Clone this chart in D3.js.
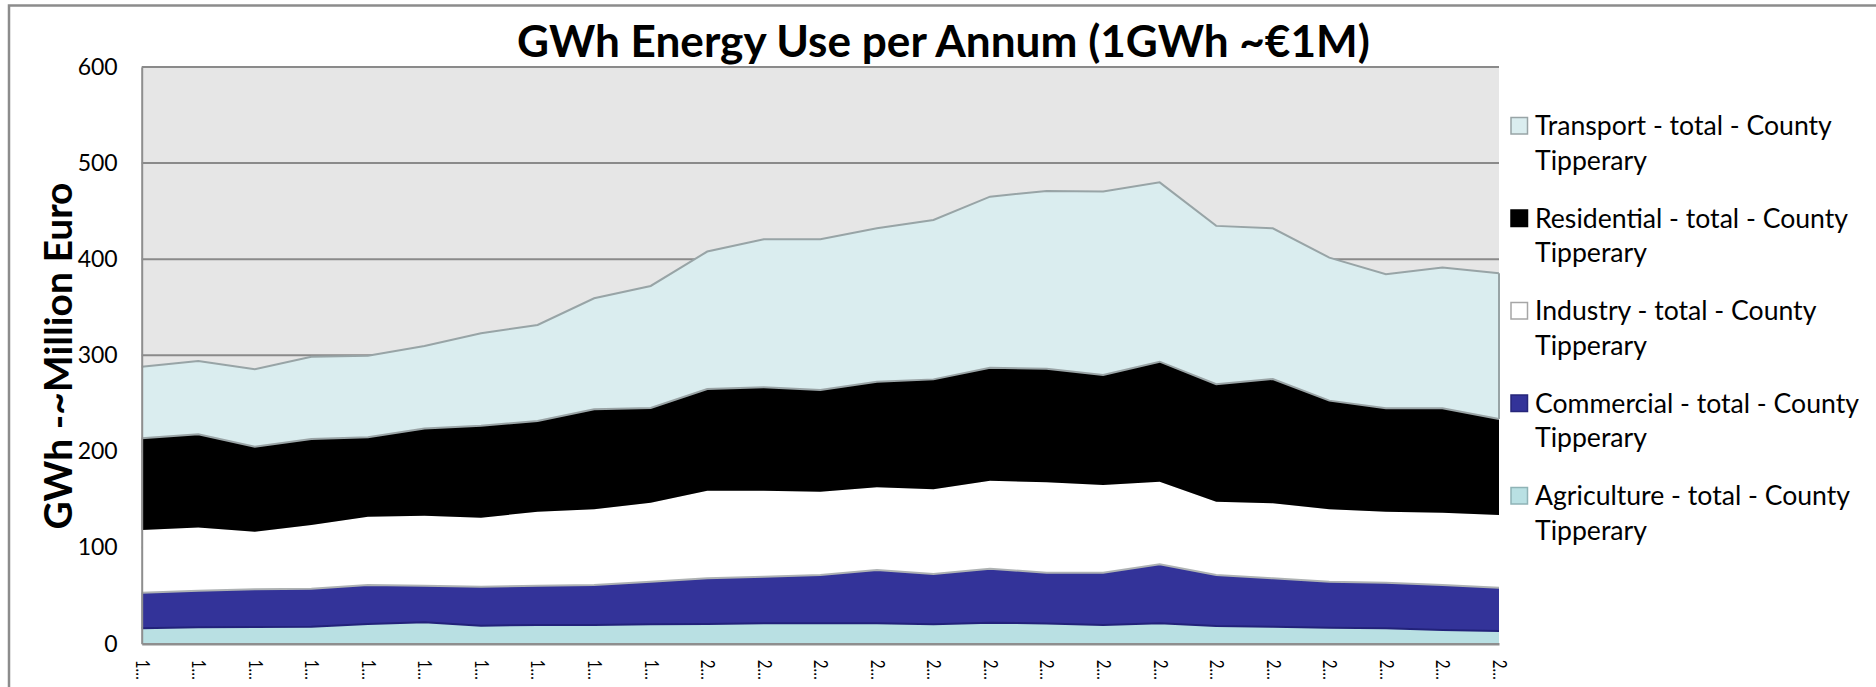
<!DOCTYPE html>
<html>
<head>
<meta charset="utf-8">
<script src="https://cdn.jsdelivr.net/npm/d3@7"></script>
<style>
  html, body { margin: 0; padding: 0; background: #ffffff; }
  svg { display: block; }
  text { font-family: Lato, "Open Sans", sans-serif; fill: #000; }
</style>
</head>
<body>
<svg id="chart" width="1876" height="687"></svg>
<script>
// ---------- data ----------
const years = [1990, 1991, 1992, 1993, 1994, 1995, 1996, 1997, 1998, 1999,
               2000, 2001, 2002, 2003, 2004, 2005, 2006, 2007, 2008, 2009,
               2010, 2011, 2012, 2013, 2014];
const agriculture = [16.0, 17.0, 17.3, 17.7, 20.5, 22.2, 18.7, 19.5, 19.5, 20.2,
                     20.5, 21.2, 21.2, 21.2, 20.2, 21.9, 21.0, 19.5, 21.2, 18.4,
                     17.7, 16.7, 16.0, 14.3, 13.2];
const commercial  = [37.0, 38.0, 39.3, 39.5, 40.5, 38.2, 40.6, 40.9, 41.5, 44.3,
                     47.5, 48.5, 50.3, 55.5, 52.3, 56.1, 52.9, 54.4, 61.4, 53.1,
                     50.3, 47.8, 47.5, 46.7, 45.1];
const industry    = [65.3, 66.0, 59.9, 66.3, 71.0, 72.8, 71.7, 77.0, 78.8, 82.2,
                     91.2, 89.5, 86.7, 86.0, 88.2, 91.6, 94.1, 91.1, 86.0, 76.3,
                     78.0, 75.3, 73.9, 75.3, 75.7];
const residential = [95.4, 96.9, 88.5, 89.5, 82.8, 90.8, 95.8, 94.3, 104.1, 98.6,
                     105.8, 107.6, 105.8, 109.9, 114.3, 117.4, 118.0, 114.6, 124.8, 122.2,
                     129.4, 113.1, 107.6, 108.7, 99.8];
const transport   = [74.5, 76.3, 80.5, 85.6, 84.9, 85.8, 96.2, 99.9, 115.5, 126.9,
                     143.0, 154.0, 156.8, 159.6, 165.9, 178.1, 185.0, 190.8, 186.6, 164.7,
                     156.8, 148.8, 139.4, 146.3, 151.6];
const yTicks = [0, 100, 200, 300, 400, 500, 600];
const seriesKeys = ["agriculture", "commercial", "industry", "residential", "transport"];
const legendLabels = ["Transport - total - County Tipperary",
                      "Residential - total - County Tipperary",
                      "Industry - total - County Tipperary",
                      "Commercial - total - County Tipperary",
                      "Agriculture - total - County Tipperary"];
const legendKeys = ["transport", "residential", "industry", "commercial", "agriculture"];
const titleText = "GWh Energy Use per Annum (1GWh ~€1M)";
const yTitleText = "GWh -~Million Euro";

// ---------- styles ----------
const fills = {
  transport: "#DAEDEF", residential: "#000000", industry: "#FFFFFF",
  commercial: "#333399", agriculture: "#B9E0E3"
};
const legendStroke = {
  transport: "#98A4A6", residential: "#000000", industry: "#A6A6A6",
  commercial: "#26267A", agriculture: "#8FB3B6"
};

// ---------- build ----------
const table = years.map((yr, i) => ({
  year: yr,
  agriculture: agriculture[i], commercial: commercial[i], industry: industry[i],
  residential: residential[i], transport: transport[i]
}));

const svg = d3.select("#chart");
const plot = { left: 141.7, right: 1499, top: 67, bottom: 643.7 };

const x = d3.scalePoint().domain(years).range([plot.left, plot.right]);
const y = d3.scaleLinear().domain([0, 600]).range([plot.bottom, plot.top]);

// outer chart border (partially visible)
svg.append("path")
  .attr("d", `M9,687 L9,5.5 L1876,5.5`)
  .attr("fill", "none").attr("stroke", "#8C8C8C").attr("stroke-width", 2.5);

// plot background
svg.append("rect")
  .attr("x", plot.left).attr("y", plot.top)
  .attr("width", plot.right - plot.left).attr("height", plot.bottom - plot.top)
  .attr("fill", "#E6E6E6");

// gridlines
svg.append("g").selectAll("line").data(yTicks.filter(d => d > 0)).join("line")
  .attr("x1", plot.left).attr("x2", plot.right)
  .attr("y1", d => y(d)).attr("y2", d => y(d))
  .attr("stroke", "#8A8A8A").attr("stroke-width", 2);

// stacked areas
const stacked = d3.stack().keys(seriesKeys)(table);
const area = d3.area()
  .x(d => x(d.data.year)).y0(d => y(d[0])).y1(d => y(d[1]));
const topLine = d3.line().x(d => x(d.data.year)).y(d => y(d[1]));

svg.append("g").selectAll("path").data(stacked).join("path")
  .attr("d", area)
  .attr("fill", d => fills[d.key]);

const byKey = {};
stacked.forEach(s => byKey[s.key] = s);

// boundary lines
const lines = svg.append("g").attr("fill", "none");
lines.append("path").attr("d", topLine(byKey.agriculture))
  .attr("stroke", "#22227A").attr("stroke-width", 2);
lines.append("path").attr("d", topLine(byKey.commercial))
  .attr("stroke", "#AEB2B3").attr("stroke-width", 2);
lines.append("path").attr("d", topLine(byKey.residential))
  .attr("stroke", "#9AA4A6").attr("stroke-width", 2);
lines.append("path").attr("d", topLine(byKey.transport))
  .attr("stroke", "#98A4A6").attr("stroke-width", 2);
// right edge of transport area
const tr = byKey.transport[byKey.transport.length - 1];
lines.append("line")
  .attr("x1", x(tr.data.year)).attr("x2", x(tr.data.year))
  .attr("y1", y(tr[1])).attr("y2", y(tr[0]))
  .attr("stroke", "#98A4A6").attr("stroke-width", 2);

// y axis
const yAxis = svg.append("g")
  .attr("transform", `translate(${plot.left},0)`)
  .call(d3.axisLeft(y).tickValues(yTicks).tickSize(0).tickPadding(24));
yAxis.select(".domain").attr("stroke", "#8E8E8E").attr("stroke-width", 2);
yAxis.selectAll("text")
  .style("font-family", "Lato, 'Open Sans', sans-serif")
  .style("font-size", "23px").attr("fill", "#000");

// x axis
const xAxis = svg.append("g")
  .attr("transform", `translate(0,${plot.bottom})`)
  .call(d3.axisBottom(x).tickSize(0).tickSizeOuter(0)
        .tickFormat(d => String(d).charAt(0) + "…"));
xAxis.select(".domain").attr("stroke", "#8E8E8E").attr("stroke-width", 2.5);
xAxis.selectAll("text")
  .style("font-family", "Lato, 'Open Sans', sans-serif")
  .style("font-size", "19px").attr("fill", "#000")
  .attr("transform", "rotate(90)")
  .attr("x", 16).attr("y", 0).attr("dy", "0.35em")
  .attr("text-anchor", "start")
  .attr("textLength", 20)
  .attr("lengthAdjust", "spacingAndGlyphs");

// helper: fit font size to a target width
function fit(sel, target) {
  const w = sel.node().getComputedTextLength();
  const fs = parseFloat(sel.style("font-size"));
  const nfs = fs * target / w;
  sel.style("font-size", nfs + "px");
  return nfs;
}

// title
const title = svg.append("text")
  .attr("x", 943.5).attr("y", 57)
  .attr("text-anchor", "middle")
  .style("font-weight", "bold").style("font-size", "44px")
  .text(titleText);
fit(title, 853);

// y title
const yTitle = svg.append("text")
  .attr("transform", "translate(72,356) rotate(-90)")
  .attr("text-anchor", "middle")
  .style("font-weight", "bold").style("font-size", "42px")
  .text(yTitleText);
fit(yTitle, 347);

// legend
const legend = svg.append("g");
const probe = legend.append("text").style("font-size", "28px").text("Transport - total - County");
const legFs = fit(probe, 297);
probe.remove();

legendKeys.forEach((k, i) => {
  const base = 135 + 92.5 * i;
  const parts = legendLabels[i].split(" County ");
  legend.append("rect")
    .attr("x", 1511).attr("y", base - 17.5)
    .attr("width", 16.5).attr("height", 16.5)
    .attr("fill", fills[k]).attr("stroke", legendStroke[k]).attr("stroke-width", 1.5);
  legend.append("text")
    .attr("x", 1535).attr("y", base)
    .style("font-size", legFs + "px")
    .text(parts[0] + " County");
  legend.append("text")
    .attr("x", 1535).attr("y", base + 34.5)
    .style("font-size", legFs + "px")
    .text(parts[1]);
});
</script>
</body>
</html>
